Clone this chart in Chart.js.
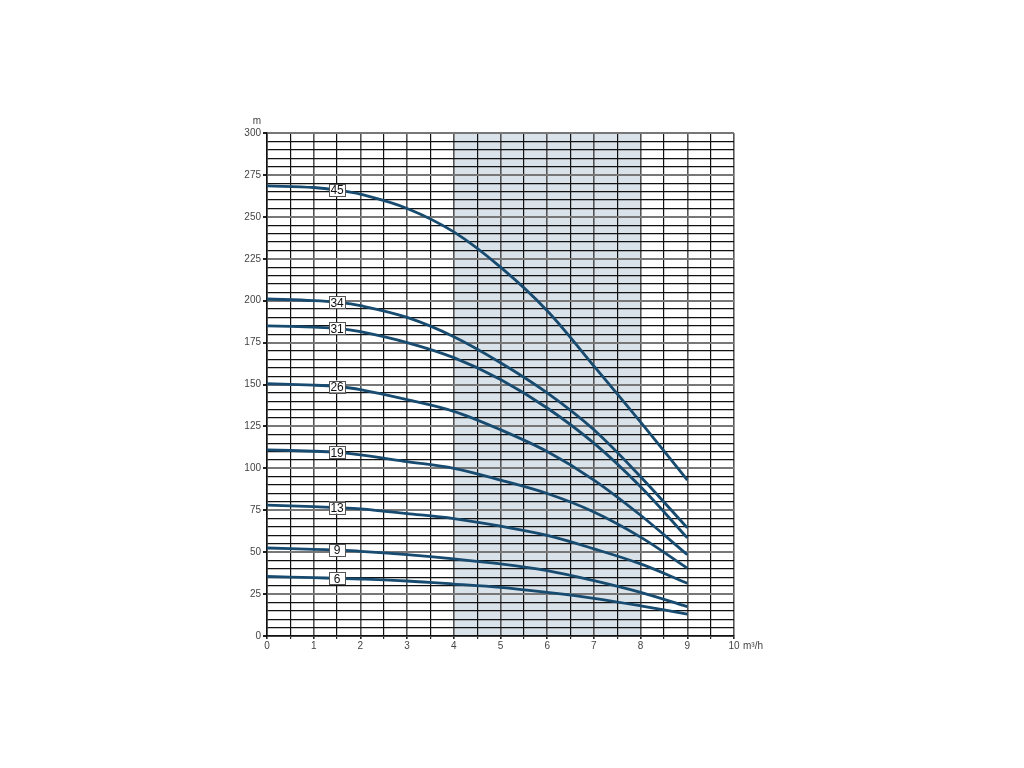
<!DOCTYPE html>
<html>
<head>
<meta charset="utf-8">
<script src="https://cdn.jsdelivr.net/npm/chart.js@4/dist/chart.umd.min.js"></script>
<style>
html,body{margin:0;padding:0;background:#fff;}
#wrap{width:1024px;height:768px;position:relative;}
</style>
</head>
<body>
<div id="wrap"><canvas id="c" width="1024" height="768"></canvas></div>
<script>
// flow values (m3/h) at which the curves were read
const flow = [0, 1, 1.5, 2, 3, 4, 5, 6, 7, 8, 9];
// head (m) for each pump model (stage count)
const curveNames = ['45', '34', '31', '26', '19', '13', '9', '6'];
const head45 = [268.5, 267.5, 266, 263.5, 255, 241, 220, 194, 161, 127.5, 93];
const head34 = [201, 200, 199, 197, 190, 178.5, 163, 145, 123, 95, 64.5];
const head31 = [185, 184.2, 183.5, 181.5, 175, 166, 153, 136, 115, 89, 58.5];
const head26 = [150.5, 149.6, 148.8, 147, 141, 134, 123, 110, 93, 72, 48.5];
const head19 = [111, 110.2, 109.5, 108, 104, 100, 93, 85, 74, 59, 40.5];
const head13 = [78, 77.2, 76.6, 75.8, 73, 70, 65.5, 60, 52, 43, 31.5];
const head9  = [52.5, 51.7, 51.2, 50.5, 48.5, 46, 43, 39, 33, 26, 17.5];
const head6  = [35.5, 34.8, 34.4, 34, 32.8, 31, 29, 26, 22.5, 18, 13];
const heads = [head45, head34, head31, head26, head19, head13, head9, head6];
const labelFlow = 1.5;           // curve labels placed at this flow
const shadeFrom = 4, shadeTo = 8; // shaded operating range
const yTicksMajor = 25;

const datasets = heads.map((h, i) => ({
  label: curveNames[i],
  data: flow.map((x, j) => ({x: x, y: h[j]})),
  borderColor: '#184b70',
  borderWidth: 2.8,
  pointRadius: 0,
  tension: 0.35,
  fill: false
}));

const shadePlugin = {
  id: 'shade',
  beforeDraw(chart) {
    const {ctx, chartArea, scales} = chart;
    const x0 = scales.x.getPixelForValue(shadeFrom);
    const x1 = scales.x.getPixelForValue(shadeTo);
    ctx.save();
    ctx.fillStyle = '#d9e1e9';
    ctx.fillRect(x0, chartArea.top, x1 - x0, chartArea.bottom - chartArea.top);
    ctx.restore();
  }
};

const labelPlugin = {
  id: 'curveLabels',
  afterDatasetsDraw(chart) {
    const {ctx, scales} = chart;
    const idx = flow.indexOf(labelFlow);
    ctx.save();
    ctx.font = '12px "Liberation Sans Narrow", "Liberation Sans", Arial, sans-serif';
    ctx.textAlign = 'center';
    ctx.textBaseline = 'middle';
    heads.forEach((h, i) => {
      const px = scales.x.getPixelForValue(labelFlow);
      const py = scales.y.getPixelForValue(h[idx]);
      const w = 16, hh = 12;
      ctx.fillStyle = '#ffffff';
      ctx.fillRect(px - w/2, py - hh/2, w, hh);
      ctx.strokeStyle = '#555';
      ctx.lineWidth = 1;
      ctx.strokeRect(Math.round(px - w/2) + 0.5, Math.round(py - hh/2) + 0.5, w, hh);
      ctx.fillStyle = '#111';
      ctx.fillText(curveNames[i], px, py + 1);
    });
    ctx.restore();
  }
};

const unitsPlugin = {
  id: 'units',
  afterDraw(chart) {
    const {ctx, chartArea} = chart;
    ctx.save();
    ctx.font = '10px "Liberation Sans Narrow", "Liberation Sans", Arial, sans-serif';
    ctx.fillStyle = '#444';
    ctx.textAlign = 'center';
    ctx.textBaseline = 'middle';
    ctx.fillText('m', chartArea.left - 10, chartArea.top - 12);
    ctx.textAlign = 'left';
    ctx.fillText('m³/h', chartArea.right + 9, chartArea.bottom + 10);
    ctx.restore();
  }
};

const tickFont = {family: '"Liberation Sans Narrow", "Liberation Sans", Arial, sans-serif', size: 10};

new Chart(document.getElementById('c'), {
  type: 'line',
  data: {datasets},
  plugins: [shadePlugin, labelPlugin, unitsPlugin],
  options: {
    responsive: false,
    animation: false,
    layout: {padding: {left: 227, right: 290, top: 133, bottom: 102}},
    plugins: {legend: {display: false}, tooltip: {enabled: false}},
    scales: {
      x: {
        type: 'linear', min: 0, max: 10,
        ticks: {
          stepSize: 0.5, color: '#444', font: tickFont, padding: 1, maxRotation: 0, autoSkip: false,
          callback: v => (Number.isInteger(v) ? String(v) : '')
        },
        grid: {
          color: ctx => (ctx.tick && Number.isInteger(ctx.tick.value) ? '#555' : '#111'),
          lineWidth: ctx => (ctx.tick && Number.isInteger(ctx.tick.value) ? 1.6 : 1.2),
          drawTicks: true, tickLength: 3, tickColor: '#222'
        },
        border: {color: '#111', width: 1.5},
        afterFit(s) { s.height = 30; }
      },
      y: {
        type: 'linear', min: 0, max: 300,
        ticks: {
          stepSize: 5, color: '#444', font: tickFont, padding: 2, autoSkip: false,
          callback: v => (v % yTicksMajor === 0 ? String(v) : '')
        },
        grid: {
          color: ctx => (ctx.tick && ctx.tick.value % yTicksMajor === 0 ? '#777' : '#111'),
          lineWidth: ctx => (ctx.tick && ctx.tick.value % yTicksMajor === 0 ? 2 : 1.2),
          drawTicks: true, tickLength: 4, tickColor: ctx => (ctx.tick && ctx.tick.value % yTicksMajor === 0 ? '#222' : 'rgba(0,0,0,0)')
        },
        border: {color: '#111', width: 1.5},
        afterFit(s) { s.width = 40; }
      }
    }
  }
});
</script>
</body>
</html>
